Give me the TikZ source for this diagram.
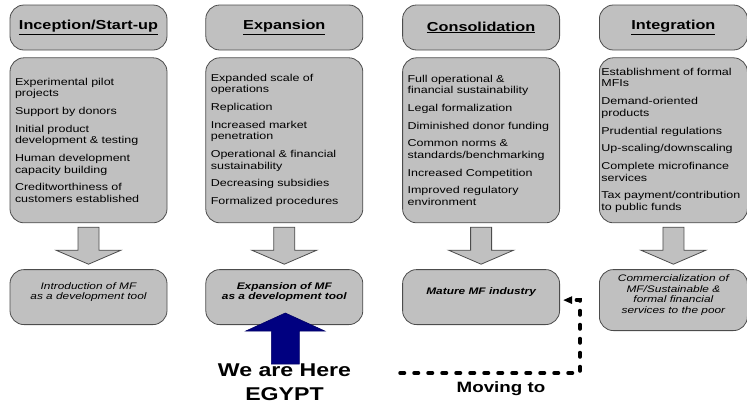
\documentclass[tikz,border=0pt]{standalone}
\usepackage{fontspec}
\setmainfont[FakeStretch=1.25]{Liberation Sans}
\usetikzlibrary{arrows.meta,positioning}

\definecolor{stagegrey}{RGB}{192,192,192}
\definecolor{herenavy}{RGB}{0,0,128}
\newcommand{\nextitem}{\\[6pt]}

\begin{document}
\begin{tikzpicture}[
    x=1pt, y=-1pt,
    node distance=7pt and 38pt,
    every node/.style={inner sep=0pt},
    stage/.style={draw=black!70, line width=0.8pt, fill=stagegrey, rounded corners=14pt},
    head/.style={stage, minimum width=157pt, minimum height=45pt, font=\fontsize{13}{15}\selectfont\bfseries},
    body/.style={stage, minimum height=165pt, text width=147pt, inner xsep=5pt, align=left, font=\fontsize{10}{11.7}\selectfont},
    result/.style={stage, minimum width=157pt, minimum height=55pt, align=center,
                   font=\fontsize{9.5}{10.5}\selectfont\itshape,
                   execute at end node={\rule[-12pt]{0pt}{12pt}}},
    downarr/.style={draw=black!70, line width=0.8pt, fill=stagegrey},
    herearr/.style={draw=herenavy!80!black, line width=0.6pt, fill=herenavy},
    moving/.style={draw=black, line width=3.5pt, dash pattern=on 4.5pt off 9.5pt, line cap=round,
                   -{Triangle[length=9pt, width=7pt]}},
    big/.style={font=\fontsize{18.5}{24}\selectfont\bfseries, align=center},
  ]
  \useasboundingbox (0,0) rectangle (747,405);

  % ===== stage headers =====
  \node[head] (head1) at (88.5,27.5) {\underline{Inception/Start-up}};
  \node[head, right=of head1] (head2) {\underline{Expansion}};
  \node[head, right=39pt of head2] (head3) {\underline{Consolidation}};
  \node[head, right=39pt of head3, minimum width=148pt] (head4) {\underline{Integration}};

  % ===== stage features =====
  \node[body, below=of head1] (body1) {Experimental pilot\\projects\nextitem
      Support by donors\nextitem
      Initial product\\development \& testing\nextitem
      Human development\\capacity building\nextitem
      Creditworthiness of\\customers established};
  \node[body, below=of head2] (body2) {Expanded scale of\\operations\nextitem
      Replication\nextitem
      Increased market\\penetration\nextitem
      Operational \& financial\\sustainability\nextitem
      Decreasing subsidies\nextitem
      Formalized procedures};
  \node[body, below=of head3] (body3) {Full operational \&\\financial sustainability\nextitem
      Legal formalization\nextitem
      Diminished donor funding\nextitem
      Common norms \&\\standards/benchmarking\nextitem
      Increased Competition\nextitem
      Improved regulatory\\environment};
  \node[body, below=of head4, text width=144pt, inner xsep=2pt] (body4) {Establishment of formal\\MFIs\nextitem
      Demand-oriented\\products\nextitem
      Prudential regulations\nextitem
      Up-scaling/downscaling\nextitem
      Complete microfinance\\services\nextitem
      Tax payment/contribution\\to public funds};

  % ===== outcomes =====
  \node[result, below=46pt of body1] (res1) {Introduction of MF\\as a development tool};
  \node[result, below=46pt of body2, font=\fontsize{9.5}{10.5}\selectfont\bfseries\itshape] (res2)
      {Expansion of MF\\as a development tool};
  \node[result, below=46pt of body3, font=\fontsize{9.5}{10.5}\selectfont\bfseries\itshape] (res3)
      {Mature MF industry};
  \node[result, below=46pt of body4, minimum width=148pt, minimum height=61pt] (res4)
      {Commercialization of\\MF/Sustainable \&\\formal financial\\services to the poor};

  % grey block arrows from features to outcome
  \foreach \c in {1,...,4} {
    \draw[downarr] ([yshift=-4pt]body\c.south) +(-10.5,0) -- +(-10.5,23) -- +(-32.5,23)
        -- +(0,37) -- +(32.5,23) -- +(10.5,23) -- +(10.5,0) -- cycle;
  }

  % ===== where Egypt stands =====
  \draw[herearr] ([xshift=1pt, yshift=12pt]res2.south) +(0,0) -- +(39.5,18) -- +(14,18)
      -- +(14,51) -- +(-14,51) -- +(-14,18) -- +(-39.5,18) -- cycle;
  \node[big, anchor=north] (here) at (284.5,364) {We are Here\\EGYPT};

  % dashed path towards the next stage
  \coordinate (movestart) at (400,373);
  \draw[moving] (movestart) -| ([xshift=20pt, yshift=-3pt]res3.east) -- ([xshift=3pt, yshift=-3pt]res3.east);
  \node[font=\fontsize{15}{17}\selectfont\bfseries, anchor=north] (movelbl) at (501,381) {Moving to};

\end{tikzpicture}
\end{document}
